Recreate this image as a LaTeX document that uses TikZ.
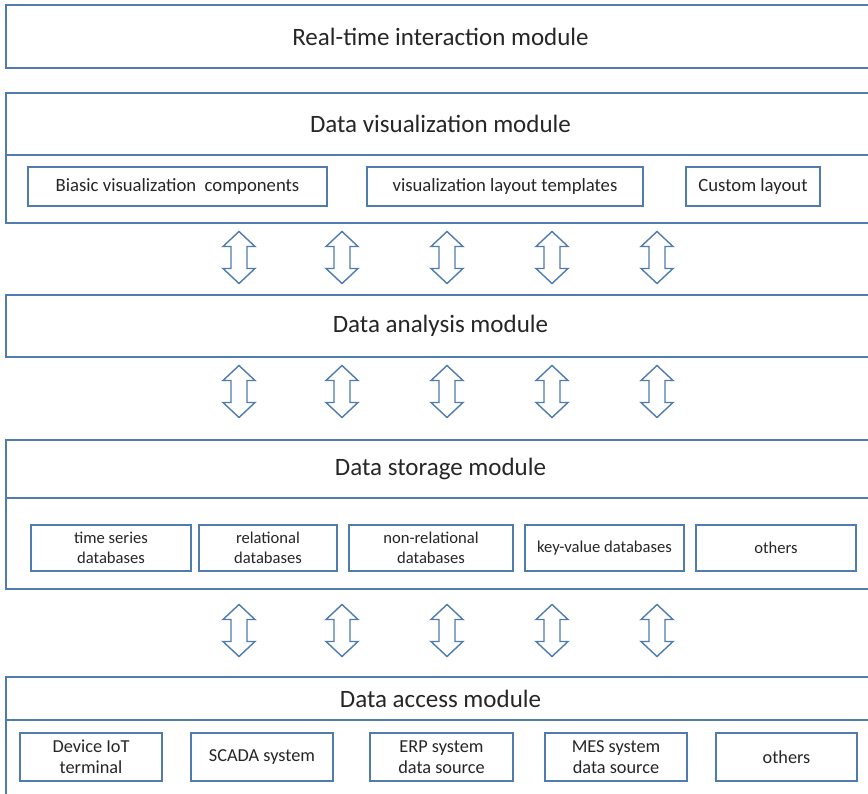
\documentclass[tikz,border=0pt]{standalone}
\usepackage{fontspec}
\setmainfont{Carlito}
\usepackage{tikz}
\usetikzlibrary{calc}

\definecolor{frameblue}{HTML}{4F7BAF}
\definecolor{textgray}{HTML}{262626}

\begin{document}
\begin{tikzpicture} [x=1pt, y=-1pt,
				module/.style={
				% The shape:
				rectangle,
				% The size:
      				minimum width=869pt, inner sep=0pt, outer sep=0pt,
				% The border:
     				 draw=frameblue, line width=1.6pt,
      				% The filling:
				fill = white,
				font=\fontsize{25}{29}\selectfont
    				},
				item/.style={
				% The shape:
				rectangle,
				% The size:
      				inner sep=0pt, outer sep=0pt,
				% The border:
     				 draw=frameblue, line width=1.6pt,
      				% The filling:
				fill = white,
				font=\fontsize{18.7}{21}\selectfont
    				},
				twoway/.pic={
				% up/down block arrow
				\draw[frameblue, line width=1.4pt, fill=white, line join=miter]
					(0,-26) -- (16,-11) -- (8,-11) -- (8,11) -- (16,11) -- (0,26)
					-- (-16,11) -- (-8,11) -- (-8,-11) -- (-16,-11) -- cycle;
				},
				]
    \tikzstyle{every node} = [align=center, text=textgray]
    \tikzstyle{small} = [font=\fontsize{16.6}{19.5}\selectfont]
    \tikzstyle{medium} = [font=\fontsize{18.3}{21}\selectfont]

    \useasboundingbox (0,0) rectangle (868,794);
    \clip (0,0) rectangle (868,794);

    % modules, top to bottom
    \node [module, minimum height=63pt] (rt) at (440.5,36.5) {Real-time interaction module};

    \node [module, minimum height=62pt] (vizhead) at (440.5,124) {Data visualization module};
    \node [module, minimum height=68pt] (vizbody) at (440.5,189) {};

    \node [module, minimum height=62pt] (ana) at (440.5,326) {Data analysis module};

    \node [module, minimum height=58pt] (storhead) at (440.5,469) {Data storage module};
    \node [module, minimum height=91pt] (storbody) at (440.5,543.5) {};

    \node [module, minimum height=43pt] (acchead) at (440.5,698.5) {Data access module};
    \node [module, minimum height=90pt] (accbody) at (440.5,765) {};

    % visualization parts
    \node [item, minimum width=299pt, minimum height=39pt] (basic) at (177.5,186.5) {Biasic visualization\ \ components};
    \node [item, minimum width=276pt, minimum height=39pt] (layout) at (505,186.5) {visualization layout templates};
    \node [item, minimum width=134pt, minimum height=39pt] (custom) at (753,186.5) {Custom layout};

    % storage parts
    \node [item, small, minimum width=160pt, minimum height=46pt] (tsdb) at (111,548) {time series\\databases};
    \node [item, small, minimum width=138pt, minimum height=46pt] (reldb) at (268,548) {relational\\databases};
    \node [item, small, minimum width=164pt, minimum height=46pt] (nosql) at (431,548) {non-relational\\databases};
    \node [item, small, minimum width=159pt, minimum height=46pt] (kvdb) at (604.5,548) {key-value databases};
    \node [item, small, minimum width=160pt, minimum height=46pt] (otherdb) at (776,548) {others};

    % access parts
    \node [item, medium, minimum width=142pt, minimum height=48pt] (iot) at (91,757) {Device IoT\\terminal};
    \node [item, medium, minimum width=142pt, minimum height=48pt] (scada) at (262,757) {SCADA system};
    \node [item, medium, minimum width=143pt, minimum height=48pt] (erp) at (441.5,757) {ERP system\\data source};
    \node [item, medium, minimum width=142pt, minimum height=48pt] (mes) at (616,757) {MES system\\data source};
    \node [item, medium, minimum width=141pt, minimum height=48pt] (othersrc) at (786.5,757) {others};

    % links between the layers
    \foreach \y in {257.5, 391.5, 630.5}
        \foreach \x in {239, 342, 447, 552, 657}
            \pic at (\x,\y) {twoway};
\end{tikzpicture}
\end{document}
